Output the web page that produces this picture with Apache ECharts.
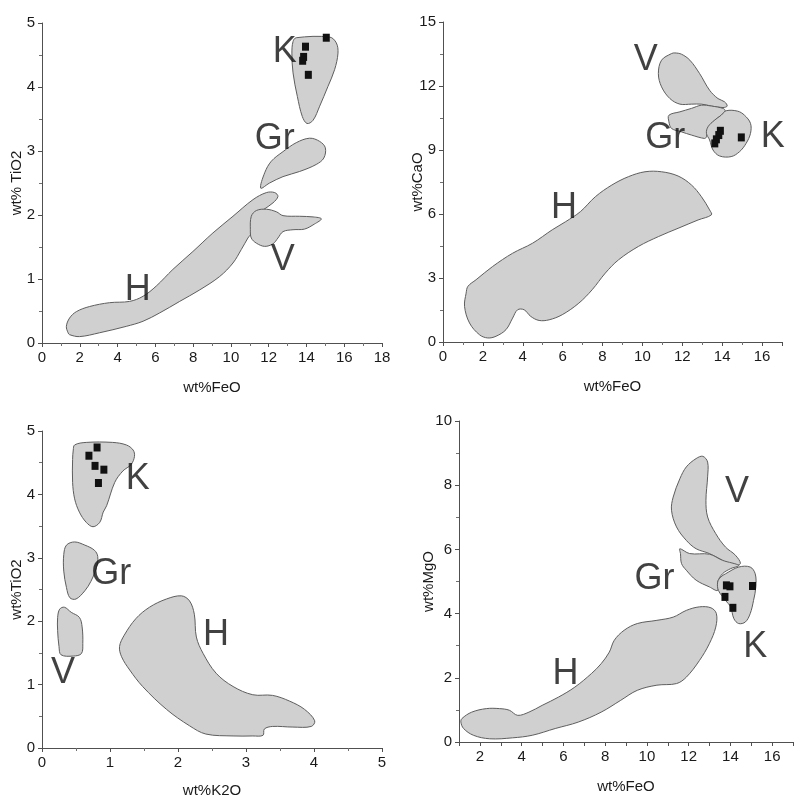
<!DOCTYPE html>
<html><head><meta charset="utf-8">
<script src="https://cdn.jsdelivr.net/npm/echarts@6/dist/echarts.min.js"></script>
<style>html,body{margin:0;padding:0;background:#fff}#c{width:796px;height:799px}</style>
</head><body><div id="c"></div>
<script>
// ---------- Panel 1: wt%FeO vs wt% TiO2 ----------
const p1_H = [[1.46,0.13],[1.99,0.10],[3.05,0.16],[4.46,0.26],[5.35,0.34],[6.23,0.47],[7.29,0.65],[8.35,0.83],[9.41,1.04],[10.11,1.25],[10.55,1.46],[10.9,1.64],[11.08,1.72],[11.17,1.98],[11.7,2.08],[12.23,2.19],[12.49,2.29],[12.32,2.35],[11.88,2.35],[11.17,2.24],[10.11,1.98],[9.05,1.72],[7.99,1.43],[6.93,1.15],[6.05,0.89],[5.35,0.73],[4.64,0.65],[3.58,0.63],[2.52,0.57],[1.82,0.49],[1.46,0.39],[1.29,0.26],[1.38,0.16]];
const p1_V = [[11.08,1.98],[11.35,2.07],[11.88,2.09],[12.41,2.05],[12.76,1.99],[13.64,1.98],[14.35,1.97],[14.79,1.94],[14.43,1.86],[13.9,1.78],[13.29,1.77],[12.76,1.74],[12.49,1.64],[12.23,1.55],[11.79,1.51],[11.35,1.56],[11.08,1.64],[11.03,1.77]];
const p1_Gr = [[11.58,2.42],[11.79,2.66],[12.14,2.84],[12.76,2.99],[13.46,3.13],[14.17,3.2],[14.7,3.15],[15.0,3.05],[14.92,2.89],[14.52,2.79],[13.64,2.68],[12.76,2.6],[12.05,2.5]];
const p1_K = [[13.46,4.77],[15.23,4.78],[15.58,4.69],[15.67,4.53],[15.49,4.27],[15.14,4.01],[14.7,3.7],[14.35,3.48],[14.03,3.43],[13.78,3.54],[13.52,3.85],[13.29,4.22],[13.23,4.53],[13.29,4.71]];
const p1_pts = [[15.05,4.77],[13.95,4.63],[13.85,4.47],[13.8,4.41],[14.1,4.19]];
const p1_labels = [['K',12.85,4.55],['Gr',12.32,3.18],['V',12.74,1.30],['H',5.07,0.82]];

// ---------- Panel 2: wt%FeO vs wt%CaO ----------
const p2_H = [[1.16,2.29],[1.08,1.67],[1.33,0.89],[1.83,0.34],[2.24,0.19],[2.66,0.27],[3.16,0.58],[3.49,1.12],[3.74,1.51],[4.07,1.51],[4.4,1.2],[4.82,1.01],[5.32,1.04],[5.98,1.28],[6.81,1.82],[7.48,2.45],[8.14,3.23],[8.8,3.85],[9.8,4.48],[10.8,4.94],[11.79,5.33],[12.79,5.72],[13.46,5.96],[13.37,6.19],[12.96,6.81],[12.46,7.36],[11.79,7.78],[10.96,7.98],[10.13,7.98],[9.3,7.75],[8.47,7.36],[7.64,6.81],[6.89,6.11],[6.15,5.64],[5.48,5.26],[4.49,4.63],[3.49,4.16],[2.49,3.54],[1.66,2.92],[1.25,2.61]];
const p2_V = [[11.46,13.52],[10.96,13.21],[10.8,12.58],[10.96,11.96],[11.38,11.41],[11.88,11.15],[12.46,11.15],[12.96,11.15],[13.46,11.06],[14.04,10.99],[14.25,11.06],[14.12,11.26],[13.79,11.41],[13.37,11.8],[12.87,12.58],[12.38,13.21],[11.96,13.49],[11.63,13.55]];
const p2_Gr = [[11.33,10.63],[11.88,10.79],[12.46,10.95],[12.96,11.1],[13.46,11.06],[14.04,10.95],[14.15,10.84],[13.95,10.63],[13.54,10.32],[13.29,10.01],[13.21,9.62],[13.12,9.54],[12.46,9.7],[11.96,9.85],[11.46,10.01],[11.33,10.32]];
const p2_K = [[14.2,10.84],[14.78,10.82],[15.12,10.63],[15.42,10.25],[15.42,9.78],[15.2,9.31],[14.87,8.92],[14.45,8.69],[13.87,8.72],[13.54,9.0],[13.37,9.47],[13.21,9.78],[13.29,10.09],[13.62,10.4],[13.95,10.63]];
const p2_pts = [[14.96,9.59],[13.91,9.9],[13.83,9.7],[13.71,9.5],[13.63,9.31]];
const p2_labels = [['V',10.17,13.21],['Gr',11.14,9.55],['K',16.54,9.62],['H',6.07,6.27]];

// ---------- Panel 3: wt%K2O vs wt%TiO2 ----------
const p3_H = [[1.14,1.6],[1.21,1.78],[1.38,2.04],[1.58,2.22],[1.83,2.35],[2.05,2.4],[2.17,2.32],[2.24,2.11],[2.27,1.75],[2.37,1.49],[2.56,1.18],[2.81,0.97],[3.1,0.84],[3.39,0.83],[3.64,0.74],[3.86,0.61],[4.01,0.43],[3.96,0.34],[3.69,0.33],[3.39,0.34],[3.27,0.3],[3.25,0.2],[3.1,0.19],[2.81,0.19],[2.41,0.22],[2.17,0.35],[1.83,0.61],[1.48,0.97],[1.29,1.23],[1.17,1.44]];
const p3_V = [[0.26,2.19],[0.33,2.22],[0.43,2.14],[0.55,2.06],[0.59,1.91],[0.6,1.65],[0.58,1.49],[0.46,1.45],[0.28,1.47],[0.25,1.6],[0.23,1.85],[0.23,2.06]];
const p3_Gr = [[0.36,3.2],[0.48,3.25],[0.63,3.2],[0.77,3.12],[0.82,3.02],[0.8,2.84],[0.72,2.63],[0.63,2.48],[0.5,2.35],[0.41,2.37],[0.36,2.53],[0.32,2.79],[0.32,3.05]];
const p3_K = [[0.48,4.78],[0.65,4.82],[1.04,4.82],[1.24,4.78],[1.34,4.7],[1.36,4.6],[1.31,4.47],[1.19,4.37],[1.07,4.19],[0.95,3.82],[0.9,3.72],[0.85,3.56],[0.75,3.49],[0.65,3.56],[0.55,3.72],[0.48,3.93],[0.45,4.19],[0.45,4.55],[0.46,4.7]];
const p3_pts = [[0.81,4.74],[0.69,4.61],[0.78,4.45],[0.91,4.39],[0.83,4.18]];
const p3_labels = [['K',1.41,4.24],['Gr',1.02,2.74],['V',0.31,1.18],['H',2.56,1.78]];

// ---------- Panel 4: wt%FeO vs wt%MgO ----------
const p4_H = [[1.14,0.73],[1.61,0.93],[2.31,1.04],[2.94,1.04],[3.41,0.99],[3.81,0.83],[4.35,0.93],[4.98,1.14],[5.77,1.4],[6.55,1.71],[7.34,2.13],[7.81,2.44],[8.2,2.8],[8.44,3.17],[8.91,3.48],[9.54,3.69],[10.48,3.79],[11.26,3.89],[11.89,4.1],[12.52,4.21],[13.07,4.18],[13.33,4.0],[13.3,3.58],[12.99,3.06],[12.52,2.54],[11.89,2.02],[11.42,1.82],[10.48,1.77],[9.54,1.61],[8.75,1.3],[7.81,0.93],[6.71,0.62],[5.61,0.42],[4.51,0.21],[3.57,0.13],[2.47,0.1],[1.69,0.21],[1.22,0.42],[1.09,0.62]];
const p4_V = [[12.68,8.9],[12.91,8.72],[12.91,8.26],[12.83,7.53],[12.91,7.01],[13.3,6.49],[13.77,6.07],[14.24,5.82],[14.48,5.56],[14.17,5.5],[13.62,5.66],[13.0,5.87],[12.36,6.02],[11.89,6.28],[11.42,6.7],[11.18,7.22],[11.26,7.63],[11.58,8.2],[11.89,8.57],[12.36,8.83]];
const p4_Gr = [[11.58,6.02],[12.05,5.87],[13.0,5.85],[13.62,5.66],[14.4,5.5],[14.01,5.4],[13.62,5.24],[13.39,4.98],[13.39,4.72],[13.0,4.83],[12.36,5.04],[11.89,5.35],[11.66,5.56],[11.61,5.87]];
const p4_K = [[13.77,5.24],[14.4,5.45],[14.95,5.45],[15.19,5.24],[15.22,4.83],[15.11,4.41],[14.95,4.0],[14.72,3.74],[14.4,3.69],[14.17,3.84],[14.01,4.21],[13.77,4.41],[13.43,4.72],[13.39,4.98],[13.54,5.14]];
const p4_pts = [[13.81,4.88],[13.98,4.85],[13.74,4.52],[14.12,4.18],[15.06,4.86]];
const p4_labels = [['V',14.32,7.79],['Gr',10.37,5.09],['K',15.19,2.96],['H',6.10,2.13]];

// axis names
const xNames = ['wt%FeO','wt%FeO','wt%K2O','wt%FeO'];
const yNames = ['wt% TiO2','wt%CaO','wt%TiO2','wt%MgO'];

const FONT = "'Liberation Sans',Arial,sans-serif";
const axisCol = '#505050';

function baseAxis(extra) {
  return Object.assign({
    type: 'value',
    axisLine: {show: true, onZero: false, lineStyle: {color: axisCol, width: 1}},
    axisTick: {show: true, length: 4, lineStyle: {color: axisCol}},
    minorTick: {show: true, splitNumber: 2, length: 3, lineStyle: {color: '#707070'}},
    splitLine: {show: false},
    axisLabel: {color: '#1a1a1a', fontSize: 15, fontFamily: FONT, margin: 7},
    nameLocation: 'middle',
    nameMoveOverlap: false,
    nameTextStyle: {color: '#1a1a1a', fontSize: 15, fontFamily: FONT}
  }, extra);
}

const grids = [
  {left: 42, top: 23, width: 340, height: 320},
  {left: 443, top: 22, width: 339, height: 320},
  {left: 42, top: 431, width: 340, height: 322},
  {left: 459, top: 421, width: 338, height: 321}
];
const evenFmt = v => (Math.abs(v % 2) < 1e-9 ? String(v) : '');

const xAxes = [
  baseAxis({gridIndex: 0, min: 0, max: 18, interval: 2, name: xNames[0], nameGap: 37}),
  baseAxis({gridIndex: 1, min: 0, max: 17, interval: 2, name: xNames[1], nameGap: 37,
    axisLabel: {color: '#1a1a1a', fontSize: 15, fontFamily: FONT, margin: 7, formatter: evenFmt}}),
  baseAxis({gridIndex: 2, min: 0, max: 5, interval: 1, name: xNames[2], nameGap: 35}),
  baseAxis({gridIndex: 3, min: 1, max: 17, interval: 1, name: xNames[3], nameGap: 37,
    minorTick: {show: false},
    axisLabel: {color: '#1a1a1a', fontSize: 15, fontFamily: FONT, margin: 7, formatter: evenFmt}})
];
const yAxes = [
  baseAxis({gridIndex: 0, min: 0, max: 5, interval: 1, name: yNames[0], nameGap: 18}),
  baseAxis({gridIndex: 1, min: 0, max: 15, interval: 3, name: yNames[1], nameGap: 18}),
  baseAxis({gridIndex: 2, min: 0, max: 5, interval: 1, name: yNames[2], nameGap: 18}),
  baseAxis({gridIndex: 3, min: 0, max: 10, interval: 2, name: yNames[3], nameGap: 23})
];

function polySeries(g, pts) {
  return {
    type: 'custom', xAxisIndex: g, yAxisIndex: g, silent: true, clip: false,
    data: pts,
    renderItem: function (params, api) {
      if (params.dataIndex !== 0) return null;
      const p = pts.map(d => api.coord(d));
      return {type: 'polygon', shape: {points: p, smooth: 0.35},
        style: {fill: '#d0d0d0', stroke: '#5e5e5e', lineWidth: 1}};
    }
  };
}
function ptSeries(g, pts) {
  return {type: 'scatter', xAxisIndex: g, yAxisIndex: g, silent: true, data: pts,
    symbol: 'rect', symbolSize: [7, 8], itemStyle: {color: '#111', opacity: 1}, z: 5};
}
function labelSeries(g, labs) {
  return {type: 'scatter', xAxisIndex: g, yAxisIndex: g, silent: true, symbolSize: 0,
    data: labs.map(l => ({name: l[0], value: [l[1], l[2]]})),
    label: {show: true, position: 'inside', formatter: '{b}', fontSize: 36,
      fontFamily: "'Liberation Sans','Noto Sans',sans-serif", color: '#111'}, z: 6};
}

const series = [];
[[p1_H, p1_V, p1_Gr, p1_K], [p2_H, p2_V, p2_Gr, p2_K], [p3_H, p3_V, p3_Gr, p3_K], [p4_H, p4_V, p4_Gr, p4_K]]
  .forEach((regs, g) => regs.forEach(r => series.push(polySeries(g, r))));
[p1_pts, p2_pts, p3_pts, p4_pts].forEach((p, g) => series.push(ptSeries(g, p)));
[p1_labels, p2_labels, p3_labels, p4_labels].forEach((l, g) => series.push(labelSeries(g, l)));

const chart = echarts.init(document.getElementById('c'), null, {renderer: 'canvas'});
chart.setOption({
  backgroundColor: '#fff',
  animation: false,
  grid: grids,
  xAxis: xAxes,
  yAxis: yAxes,
  series: series
});
</script></body></html>
